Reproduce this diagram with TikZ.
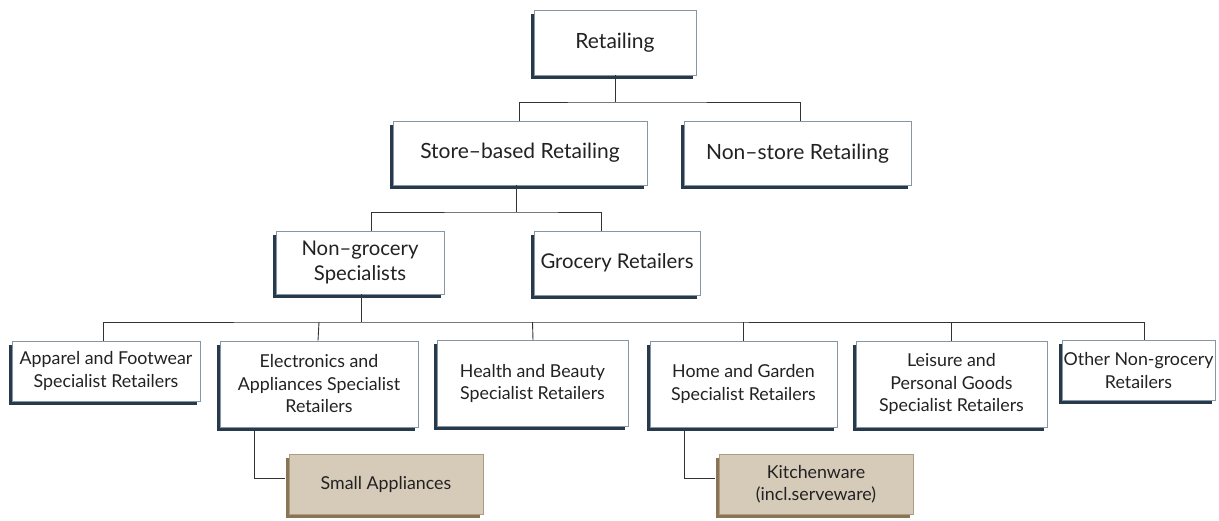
\documentclass[tikz,border=0pt]{standalone}
\usepackage{fontspec}
\setmainfont{Lato}
\usetikzlibrary{shadows}
\definecolor{navyshadow}{HTML}{263A4B}
\definecolor{boxborder}{HTML}{8796A4}
\definecolor{beige}{HTML}{D6CAB9}
\definecolor{beigeborder}{HTML}{AE9C82}
\definecolor{brownshadow}{HTML}{8B7456}
\definecolor{linec}{HTML}{333333}
\definecolor{textc}{HTML}{222222}
\tikzset{
  cat/.style={draw=boxborder, line width=0.8pt, fill=white, align=center,
    inner sep=0pt, text=textc, font=\fontsize{17.8}{22.5}\selectfont,
    drop shadow={shadow xshift=-3.5pt, shadow yshift=-3.5pt, fill=navyshadow, opacity=1}},
  bigcat/.style={cat, font=\fontsize{20.3}{25}\selectfont},
  sub/.style={draw=beigeborder, line width=0.8pt, fill=beige, align=center,
    inner sep=0pt, text=textc, font=\fontsize{17.8}{22.5}\selectfont,
    drop shadow={shadow xshift=-3.5pt, shadow yshift=-3.5pt, fill=brownshadow, opacity=1}},
  conn/.style={draw=linec, line width=0.9pt}
}
\begin{document}
\begin{tikzpicture}[x=1pt, y=-1pt]
\useasboundingbox (0,0) rectangle (1219,520);
% level 1
\node[bigcat, font=\fontsize{21}{25}\selectfont, minimum width=162, minimum height=65] (retail) at (615,42.5) {Retailing};
% level 2
\node[bigcat, font=\fontsize{21}{25}\selectfont, minimum width=254, minimum height=64] (store) at (520,153) {Store–based Retailing};
\node[bigcat, font=\fontsize{21}{25}\selectfont, minimum width=227, minimum height=64] (nonstore) at (797.5,153.5) {Non–store Retailing};
% level 3
\node[bigcat, minimum width=168, minimum height=63] (nongro) at (360,262.5) {Non–grocery\\Specialists};
\node[bigcat, minimum width=166, minimum height=64] (grocery) at (617,263) {Grocery Retailers};
% level 4
\node[cat, minimum width=188, minimum height=60] (apparel) at (106,371) {Apparel and Footwear\\Specialist Retailers};
\node[cat, minimum width=198, minimum height=86] (elec) at (319,384) {Electronics and\\Appliances Specialist\\Retailers};
\node[cat, minimum width=191, minimum height=86] (health) at (532.5,383.5) {Health and Beauty\\Specialist Retailers};
\node[cat, minimum width=187, minimum height=86] (home) at (743.5,384) {Home and Garden\\Specialist Retailers};
\node[cat, minimum width=191, minimum height=86] (leisure) at (951.5,384) {Leisure and\\Personal Goods\\Specialist Retailers};
\node[cat, minimum width=153, minimum height=60] (other) at (1138.5,370.5) {Other Non-grocery\\Retailers};
% level 5
\node[sub, minimum width=194, minimum height=60] (small) at (386,484) {Small Appliances};
\node[sub, minimum width=194, minimum height=60] (kitchen) at (816,484) {Kitchenware\\(incl.serveware)};
% connectors level 1-2
\coordinate (j1) at (615,102);
\draw[conn] (retail.south) -- (j1);
\draw[conn] ([xshift=-1]store.north) |- (j1) -| ([xshift=2.5]nonstore.north);
% level 2-3
\coordinate (j2) at (516,212);
\draw[conn] ([xshift=-4]store.south) -- (j2);
\draw[conn] ([xshift=11]nongro.north) |- (j2) -| ([xshift=-16]grocery.north);
% level 3-4
\coordinate (j3) at (361,322);
\draw[conn] ([xshift=1]nongro.south) -- (j3);
\draw[conn] ([xshift=-3]apparel.north) |- (j3) -| ([xshift=5.5]other.north);
\draw[conn] ([xshift=-1]elec.north) -- (elec.north |- j3);
\draw[conn] ([xshift=0.5]health.north) -- (health.north |- j3);
\draw[conn] (home.north) -- (home.north |- j3);
\draw[conn] (leisure.north) -- (leisure.north |- j3);
% level 4-5
\draw[conn] ([xshift=35,yshift=-4]elec.south west) |- ([xshift=-3.5,yshift=6]small.west);
\draw[conn] ([xshift=35,yshift=-4]home.south west) |- ([xshift=-3.5,yshift=6]kitchen.west);
\end{tikzpicture}
\end{document}
